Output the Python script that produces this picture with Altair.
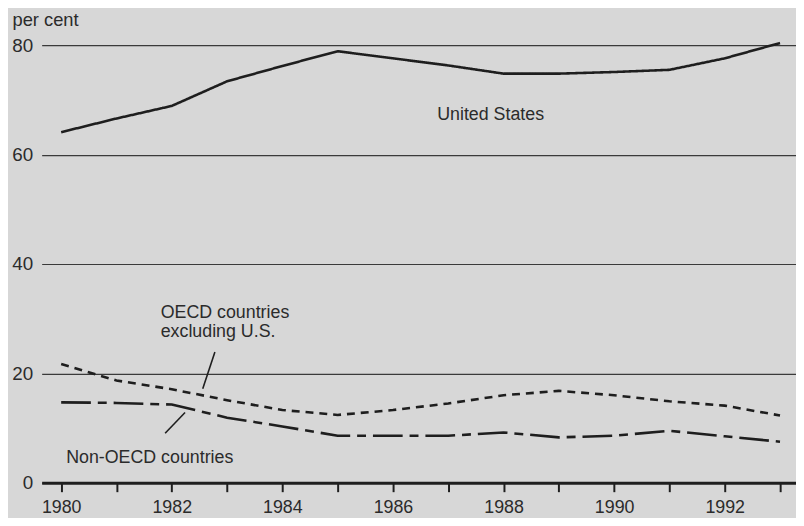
import altair as alt
import pandas as pd

years = list(range(1980, 1994))
us = [64.1, 66.6, 68.9, 73.4, 76.2, 78.9, 77.6, 76.3, 74.8, 74.8, 75.1, 75.5, 77.6, 80.4]
oecd = [21.7, 18.7, 17.1, 15.1, 13.3, 12.4, 13.3, 14.5, 16.0, 16.8, 16.0, 14.9, 14.1, 12.3]
non_oecd = [14.7, 14.6, 14.3, 11.9, 10.3, 8.6, 8.6, 8.6, 9.2, 8.3, 8.6, 9.5, 8.5, 7.5]

series_names = ["United States", "OECD excl. U.S.", "Non-OECD"]
series_dash = [[1, 0], [8, 6], [30, 7, 9, 7]]

label_text = ["United States", "OECD countries", "excluding U.S.", "Non-OECD countries"]
label_x = [1986.80, 1981.80, 1981.80, 1980.09]
label_y = [66.4, 30.05, 26.66, 3.62]

pointer_x = [1982.56, 1981.88]
pointer_y = [17.2, 9.05]
pointer_x2 = [1982.78, 1982.24]
pointer_y2 = [23.9, 12.85]

x_domain = [1979.647, 1993.289]
y_ticks = [0, 20, 40, 60, 80]

rows = []
for name, vals in zip(series_names, [us, oecd, non_oecd]):
    for yr, v in zip(years, vals):
        rows.append({"year": yr, "value": v, "series": name})
df = pd.DataFrame(rows)
labels_df = pd.DataFrame({"text": label_text, "x": label_x, "y": label_y})
pointers_df = pd.DataFrame({"x": pointer_x, "y": pointer_y, "x2": pointer_x2, "y2": pointer_y2})

FONT = "Liberation Sans"
INK = "#1e1e1e"
TXT = "#2b2b2b"
BG = "#d7d7d7"

xscale = alt.Scale(domain=x_domain, nice=False, zero=False)
yscale = alt.Scale(domain=[0, 80], nice=False)

x_axis = alt.Axis(
    values=years, format="d",
    labelExpr="datum.value % 2 == 0 ? datum.label : ''",
    grid=False, domainWidth=3, domainColor=INK, tickColor=INK,
    tickWidth=2, tickSize=9, labelFontSize=18, labelPadding=7,
    labelColor=TXT, labelFont=FONT, labelFlush=False, title=None,
)
y_axis = alt.Axis(
    values=y_ticks, grid=True, gridColor="#3a3a3a", gridWidth=1.2,
    domain=False, ticks=False, labelFontSize=19, labelPadding=9,
    labelColor=TXT, labelFont=FONT,
    title="per cent", titleAngle=0, titleAlign="left", titleBaseline="alphabetic",
    titleX=-30, titleY=-20, titleFontWeight="normal", titleFontSize=18.5,
    titleFont=FONT, titleColor=TXT,
)

lines = alt.Chart(df).mark_line(strokeWidth=2.6, color=INK).encode(
    x=alt.X("year:Q", scale=xscale, axis=x_axis),
    y=alt.Y("value:Q", scale=yscale, axis=y_axis),
    strokeDash=alt.StrokeDash("series:N", scale=alt.Scale(domain=series_names, range=series_dash), legend=None),
    detail="series:N",
)

texts = alt.Chart(labels_df).mark_text(
    align="left", baseline="alphabetic", fontSize=18, font=FONT, color=TXT
).encode(
    x=alt.X("x:Q", scale=xscale),
    y=alt.Y("y:Q", scale=yscale),
    text="text:N",
)

pointers = alt.Chart(pointers_df).mark_rule(color=INK, strokeWidth=1.6).encode(
    x=alt.X("x:Q", scale=xscale),
    y=alt.Y("y:Q", scale=yscale),
    x2="x2:Q",
    y2="y2:Q",
)

chart = alt.layer(lines, pointers, texts).properties(
    width=762, height=442,
    autosize=alt.AutoSizeParams(type="none"),
    padding={"left": 34, "top": 35, "right": 0, "bottom": 33},
    background=BG,
).configure_view(stroke=None, fill=BG)

chart.save("out.html", embed_options={"renderer": "svg", "actions": False})
